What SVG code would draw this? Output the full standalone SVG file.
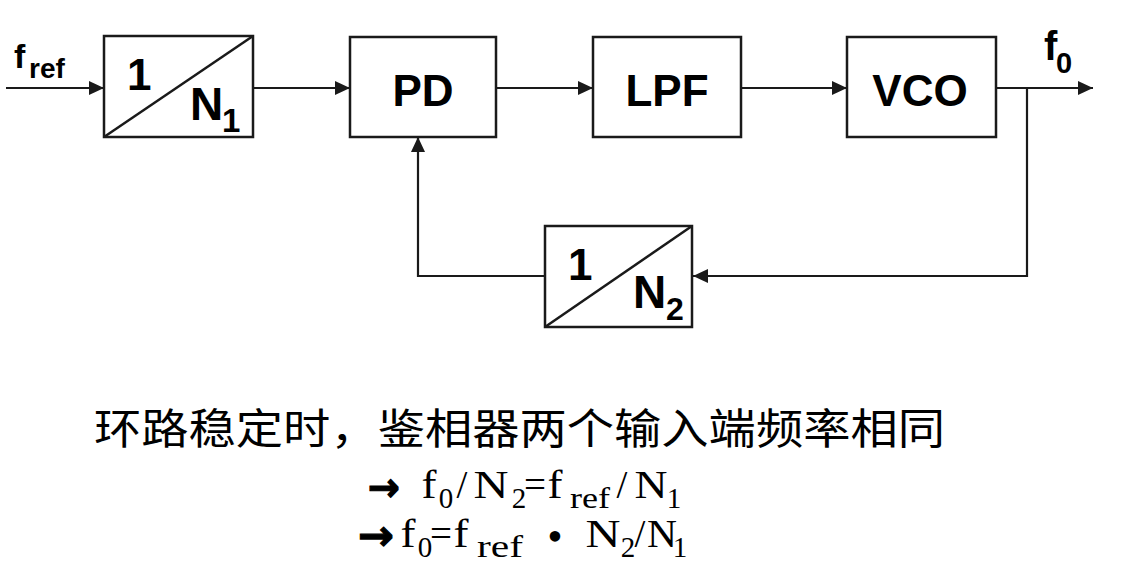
<svg xmlns="http://www.w3.org/2000/svg" width="1134" height="586" viewBox="0 0 1134 586">
<style>
.box{fill:#fff;stroke:#1a1a1a;stroke-width:2.5}
.diag{stroke:#1a1a1a;stroke-width:2.5;fill:none}
.wire{fill:none;stroke:#1a1a1a;stroke-width:2.2}
.lbl{font-family:"Liberation Sans",Arial,sans-serif;font-weight:bold;fill:#000}
.mid{text-anchor:middle}
.ser{font-family:"Liberation Serif","Times New Roman",serif;fill:#000;text-anchor:middle}
.arr{font-family:"DejaVu Sans",sans-serif;font-weight:bold;fill:#000;stroke:#000;stroke-width:1.2}
.cjk{font-family:"Noto Sans CJK SC","Noto Sans",sans-serif;fill:#000}
</style>
<defs>
<marker id="ah" markerUnits="userSpaceOnUse" markerWidth="16" markerHeight="14" refX="15" refY="7" orient="auto">
<path d="M0,0 L15,7 L0,14 z" fill="#1a1a1a"/>
</marker>
</defs>
<rect width="1134" height="586" fill="#fff"/>

<g id="connectors">
<path class="wire" d="M6,88 H104" marker-end="url(#ah)"/>
<path class="wire" d="M253,88 H350" marker-end="url(#ah)"/>
<path class="wire" d="M496,88 H593" marker-end="url(#ah)"/>
<path class="wire" d="M741,88 H847" marker-end="url(#ah)"/>
<path class="wire" d="M996,88 H1093" marker-end="url(#ah)"/>
<path class="wire" d="M1027,88 V276 H693" marker-end="url(#ah)"/>
<path class="wire" d="M545,276 H418 V137" marker-end="url(#ah)"/>
</g>

<g id="label-fref">
<text class="lbl" x="14" y="68" font-size="34">f</text>
<text class="lbl" x="29" y="78" font-size="28">ref</text>
</g>

<g id="node-N1">
<rect class="box" x="104" y="36" width="149" height="101"/>
<line class="diag" x1="104" y1="137" x2="253" y2="36"/>
<text class="lbl" x="127" y="90" font-size="44">1</text>
<text class="lbl" x="190" y="120" font-size="46">N</text>
<text class="lbl" x="222" y="132" font-size="33">1</text>
</g>

<g id="node-PD">
<rect class="box" x="350" y="37" width="146" height="100"/>
<text class="lbl mid" x="423" y="106" font-size="44">PD</text>
</g>

<g id="node-LPF">
<rect class="box" x="593" y="37" width="148" height="100"/>
<text class="lbl mid" x="667" y="106" font-size="44">LPF</text>
</g>

<g id="node-VCO">
<rect class="box" x="847" y="37" width="149" height="100"/>
<text class="lbl mid" x="920" y="106" font-size="44">VCO</text>
</g>

<g id="label-f0">
<text class="lbl" x="1044" y="60" font-size="40">f</text>
<text class="lbl" x="1056" y="73" font-size="29">0</text>
</g>

<g id="node-N2">
<rect class="box" x="545" y="226" width="147" height="101"/>
<line class="diag" x1="545" y1="327" x2="692" y2="226"/>
<text class="lbl" x="568" y="280" font-size="44">1</text>
<text class="lbl" x="633" y="308" font-size="46">N</text>
<text class="lbl" x="666" y="320" font-size="32">2</text>
</g>

<g id="caption">
<text class="cjk" x="94" y="444" font-size="42" textLength="851" lengthAdjust="spacingAndGlyphs">环路稳定时，鉴相器两个输入端频率相同</text>
</g>

<g id="formula-1">
<text class="arr" x="368" y="501" font-size="40" textLength="32" lengthAdjust="spacingAndGlyphs">→</text>
<text class="ser" x="429" y="498" font-size="39" textLength="15" lengthAdjust="spacingAndGlyphs">f</text>
<text class="ser" x="446" y="508" font-size="29">0</text>
<text class="ser" x="462" y="498" font-size="39">/</text>
<text class="ser" x="491" y="498" font-size="39" textLength="35" lengthAdjust="spacingAndGlyphs">N</text>
<text class="ser" x="519" y="508" font-size="29">2</text>
<text class="ser" x="535" y="498" font-size="39">=</text>
<text class="ser" x="555" y="498" font-size="39" textLength="15" lengthAdjust="spacingAndGlyphs">f</text>
<text class="ser" x="590" y="508" font-size="29" textLength="40" lengthAdjust="spacingAndGlyphs">ref</text>
<text class="ser" x="622" y="498" font-size="39">/</text>
<text class="ser" x="651" y="498" font-size="39" textLength="33" lengthAdjust="spacingAndGlyphs">N</text>
<text class="ser" x="674" y="508" font-size="29">1</text>
</g>

<g id="formula-2">
<text class="arr" x="358" y="550" font-size="42" textLength="36" lengthAdjust="spacingAndGlyphs">→</text>
<text class="ser" x="408" y="547" font-size="39" textLength="15" lengthAdjust="spacingAndGlyphs">f</text>
<text class="ser" x="425" y="557" font-size="29">0</text>
<text class="ser" x="441" y="547" font-size="39">=</text>
<text class="ser" x="461" y="547" font-size="39" textLength="15" lengthAdjust="spacingAndGlyphs">f</text>
<text class="ser" x="500" y="557" font-size="32" textLength="46" lengthAdjust="spacingAndGlyphs">ref</text>
<text class="ser" x="555" y="551" font-size="44">•</text>
<text class="ser" x="603" y="547" font-size="39" textLength="35" lengthAdjust="spacingAndGlyphs">N</text>
<text class="ser" x="628" y="557" font-size="29">2</text>
<text class="ser" x="640" y="547" font-size="39">/</text>
<text class="ser" x="662" y="547" font-size="39" textLength="30" lengthAdjust="spacingAndGlyphs" fill="#333">N</text>
<text class="ser" x="680" y="557" font-size="29" fill="#555">1</text>
</g>
</svg>
